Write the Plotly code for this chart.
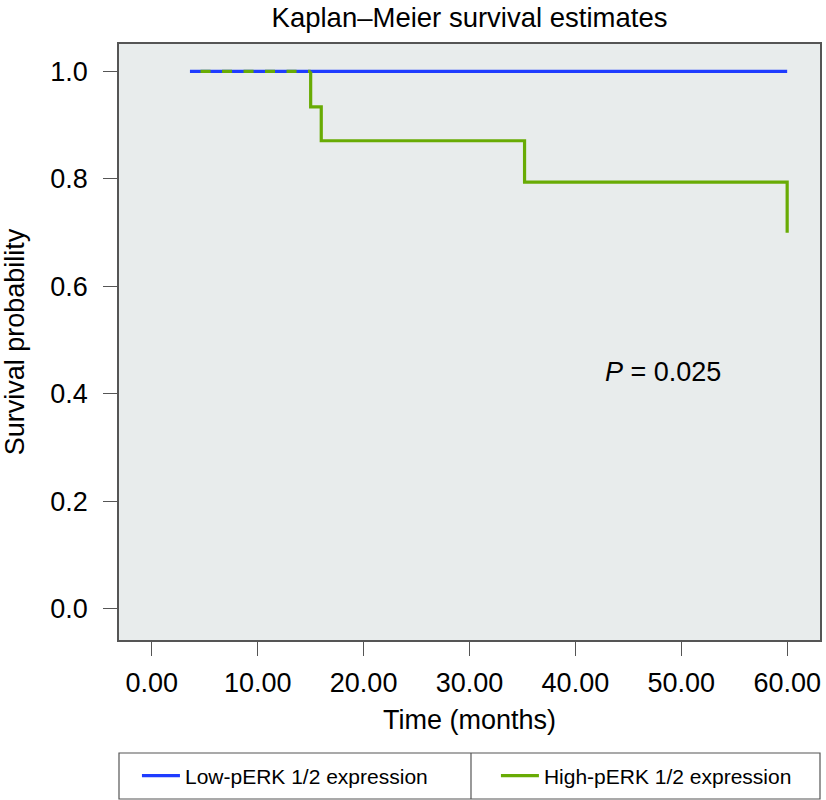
import plotly.graph_objects as go

# ---- data ----
low_times = [3.6, 60.0]
low_surv = [1.0, 1.0]

high_times = [4.6, 15.0, 16.0, 35.2, 60.0]
high_surv = [1.0, 0.934, 0.871, 0.794, 0.700]

x_tickvals = [0, 10, 20, 30, 40, 50, 60]
x_ticktext = ["0.00", "10.00", "20.00", "30.00", "40.00", "50.00", "60.00"]
y_tickvals = [0.0, 0.2, 0.4, 0.6, 0.8, 1.0]
y_ticktext = ["0.0", "0.2", "0.4", "0.6", "0.8", "1.0"]

series_names = ["Low-pERK 1/2 expression", "High-pERK 1/2 expression"]
p_text = "<i>P</i> = 0.025"
p_pos = (48.3, 0.44)

BLUE = "#1f3cff"
GREEN = "#68ab04"
FONT = "Liberation Sans, Arial, Helvetica, sans-serif"
FRAME = "#555555"

fig = go.Figure()

# low group: flat at 1.0
fig.add_trace(go.Scatter(
    x=low_times, y=low_surv, mode="lines", line_shape="hv",
    line=dict(color=BLUE, width=3.2), name=series_names[0],
    showlegend=True, legend="legend"))

# high group: step curve from the first drop onward
fig.add_trace(go.Scatter(
    x=[high_times[1]] + high_times[1:], y=[high_surv[0]] + high_surv[1:],
    mode="lines", line_shape="hv",
    line=dict(color=GREEN, width=3.2), name=series_names[1],
    showlegend=True, legend="legend2"))

# high group: initial stretch at 1.0 overlapping the low group (drawn dashed over it)
fig.add_trace(go.Scatter(
    x=high_times[:2], y=high_surv[:1] * 2, mode="lines",
    line=dict(color=GREEN, width=3.2, dash="10px,11.5px"),
    name=series_names[1], showlegend=False, hoverinfo="skip"))

fig.add_annotation(x=p_pos[0], y=p_pos[1], xref="x", yref="y", text=p_text,
                   showarrow=False, font=dict(family=FONT, size=27, color="black"))

# legend frame and divider
leg_top = (640 - 753) / 596
leg_bot = (640 - 799) / 596
fig.add_shape(type="rect", xref="paper", yref="paper", x0=0, x1=1, y0=leg_bot, y1=leg_top,
              line=dict(color=FRAME, width=1.2), fillcolor="white", layer="below")
fig.add_shape(type="line", xref="paper", yref="paper", x0=(472 - 119) / 703, x1=(472 - 119) / 703,
              y0=leg_bot, y1=leg_top, line=dict(color=FRAME, width=1.2))

legend_common = dict(orientation="h", xanchor="left", y=(640 - 776) / 596, yanchor="middle",
                     itemwidth=38, font=dict(family=FONT, size=21, color="black"),
                     bgcolor="rgba(0,0,0,0)", borderwidth=0)

fig.update_layout(
    width=826, height=800,
    margin=dict(l=119, r=4, t=44, b=160),
    paper_bgcolor="white", plot_bgcolor="#e8ecec",
    font=dict(family=FONT, size=27, color="black"),
    title=dict(text="Kaplan\u2013Meier survival estimates", x=0.5, xref="paper",
               y=1 - 17 / 800, yref="container", xanchor="center", yanchor="middle",
               font=dict(family=FONT, size=27.5, color="black")),
    showlegend=True,
    legend=dict(x=(137 - 119) / 703, **legend_common),
    legend2=dict(x=(497 - 119) / 703, **legend_common),
)

fig.update_xaxes(
    range=[-3.1, 63.1], tickvals=x_tickvals, ticktext=x_ticktext,
    ticks="outside", ticklen=14, tickwidth=1.2, tickcolor=FRAME,
    showline=True, linecolor=FRAME, linewidth=1.5, mirror=True,
    showgrid=False, zeroline=False, ticklabelstandoff=4,
    tickfont=dict(family=FONT, size=27, color="black"),
    title=dict(text="Time (months)", standoff=13,
               font=dict(family=FONT, size=27, color="black")))

fig.update_yaxes(
    range=[-0.058, 1.051], tickvals=y_tickvals, ticktext=y_ticktext,
    ticks="outside", ticklen=14, tickwidth=1.2, tickcolor=FRAME,
    showline=True, linecolor=FRAME, linewidth=1.5, mirror=True,
    showgrid=False, zeroline=False, ticklabelstandoff=10,
    tickfont=dict(family=FONT, size=27, color="black"),
    title=dict(text="Survival probability", standoff=20,
               font=dict(family=FONT, size=27, color="black")))

fig.write_html("out.html", config={"displayModeBar": False},
               post_script="document.body.style.margin='0';document.body.style.overflow='hidden';")
